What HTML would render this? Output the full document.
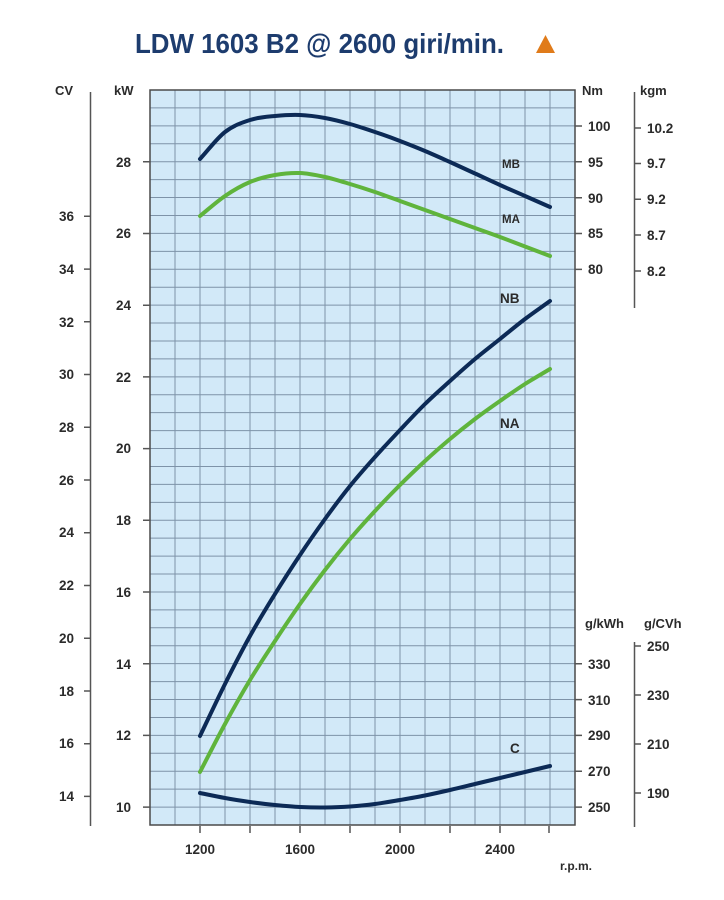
<!DOCTYPE html>
<html><head><meta charset="utf-8"><style>
html,body{margin:0;padding:0;background:#fff;}
svg{display:block;}
text{font-family:"Liberation Sans",Arial,sans-serif;font-weight:bold;fill:#2b2b2b;}
</style></head><body>
<svg width="724" height="900" viewBox="0 0 724 900" xmlns="http://www.w3.org/2000/svg">
<!-- Title -->
<text x="135" y="53" font-size="28" textLength="369" lengthAdjust="spacingAndGlyphs" style="fill:#1d3c6e">LDW 1603 B2 @ 2600 giri/min.</text>
<polygon points="536,53 555,53 545.5,35" fill="#e07b1a"/>

<!-- Plot area -->
<rect x="150" y="90" width="425" height="735" fill="#d2e9f8"/>
<path stroke="#7e93a8" stroke-width="1" fill="none" d="
M175,90V825 M200,90V825 M225,90V825 M250,90V825 M275,90V825 M300,90V825 M325,90V825 M350,90V825
M375,90V825 M400,90V825 M425,90V825 M450,90V825 M475,90V825 M500,90V825 M525,90V825 M550,90V825
M150,107.93H575 M150,125.85H575 M150,143.78H575 M150,161.71H575 M150,179.63H575 M150,197.56H575
M150,215.49H575 M150,233.41H575 M150,251.34H575 M150,269.27H575 M150,287.2H575 M150,305.12H575
M150,323.05H575 M150,340.98H575 M150,358.9H575 M150,376.83H575 M150,394.76H575 M150,412.68H575
M150,430.61H575 M150,448.54H575 M150,466.47H575 M150,484.39H575 M150,502.32H575 M150,520.25H575
M150,538.17H575 M150,556.1H575 M150,574.03H575 M150,591.96H575 M150,609.88H575 M150,627.81H575
M150,645.74H575 M150,663.66H575 M150,681.59H575 M150,699.52H575 M150,717.44H575 M150,735.37H575
M150,753.3H575 M150,771.22H575 M150,789.15H575 M150,807.08H575"/>
<rect x="150" y="90" width="425" height="735" fill="none" stroke="#4a4a4a" stroke-width="1.5"/>

<!-- Curves -->
<g fill="none" stroke-width="4" stroke-linejoin="round" stroke-linecap="round">
<path stroke="#0c2a56" d="M200,159 C208.3,150 216.7,138.5 225,132 C233.3,125.5 241.7,122.7 250,120 C258.3,117.3 266.7,116.8 275,116 C283.3,115.2 291.7,114.7 300,115 C308.3,115.3 316.7,116.5 325,118 C333.3,119.5 341.7,121.7 350,124 C358.3,126.3 366.7,129.2 375,132 C383.3,134.8 391.7,137.8 400,141 C408.3,144.2 416.7,147.5 425,151 C433.3,154.5 441.7,158.3 450,162 C458.3,165.8 466.7,169.7 475,173.5 C483.3,177.3 491.7,181.3 500,185 C508.3,188.8 516.7,192.3 525,196 C533.3,199.7 541.7,203.3 550,207"/>
<path stroke="#5fb43c" d="M200,216 C208.3,209.3 216.7,201.7 225,196 C233.3,190.3 241.7,185.5 250,182 C258.3,178.5 266.7,176.5 275,175 C283.3,173.5 291.7,172.7 300,173 C308.3,173.3 316.7,175.2 325,177 C333.3,178.8 341.7,181.5 350,184 C358.3,186.5 366.7,189.2 375,192 C383.3,194.8 391.7,198 400,201 C408.3,204 416.7,207 425,210 C433.3,213 441.7,216 450,219 C458.3,222 466.7,225 475,228 C483.3,231 491.7,233.9 500,237 C508.3,240.1 516.7,243.3 525,246.5 C533.3,249.7 541.7,252.8 550,256"/>
<path stroke="#0c2a56" d="M200,736 C208.3,718.7 216.7,700.7 225,684 C233.3,667.3 241.7,651 250,636 C258.3,621 266.7,607.5 275,594 C283.3,580.5 291.7,567.5 300,555 C308.3,542.5 316.7,530.5 325,519 C333.3,507.5 341.7,496.3 350,486 C358.3,475.7 366.7,466.3 375,457 C383.3,447.7 391.7,438.8 400,430 C408.3,421.2 416.7,412.2 425,404 C433.3,395.8 441.7,388.5 450,381 C458.3,373.5 466.7,366 475,359 C483.3,352 491.7,345.7 500,339 C508.3,332.3 516.7,325.3 525,319 C533.3,312.7 541.7,307 550,301"/>
<path stroke="#5fb43c" d="M200,772 C208.3,756 216.7,739.3 225,724 C233.3,708.7 241.7,693.8 250,680 C258.3,666.2 266.7,653.7 275,641 C283.3,628.3 291.7,615.8 300,604 C308.3,592.2 316.7,580.8 325,570 C333.3,559.2 341.7,548.8 350,539 C358.3,529.2 366.7,520 375,511 C383.3,502 391.7,493.3 400,485 C408.3,476.7 416.7,468.7 425,461 C433.3,453.3 441.7,446 450,439 C458.3,432 466.7,425.3 475,419 C483.3,412.7 491.7,406.8 500,401 C508.3,395.2 516.7,389.3 525,384 C533.3,378.7 541.7,374 550,369"/>
<path stroke="#0c2a56" d="M200,793 C208.3,794.7 216.7,796.5 225,798 C233.3,799.5 241.7,800.8 250,802 C258.3,803.2 266.7,804.2 275,805 C283.3,805.8 291.7,806.6 300,807 C308.3,807.4 316.7,807.6 325,807.5 C333.3,807.4 341.7,807.1 350,806.5 C358.3,805.9 366.7,805.1 375,804 C383.3,802.9 391.7,801.4 400,800 C408.3,798.6 416.7,797.2 425,795.5 C433.3,793.8 441.7,791.9 450,790 C458.3,788.1 466.7,786 475,784 C483.3,782 491.7,780 500,778 C508.3,776 516.7,774 525,772 C533.3,770 541.7,768 550,766"/>
</g>

<!-- Curve labels -->
<text x="502" y="168" font-size="11.5">MB</text>
<text x="502" y="223" font-size="11.5">MA</text>
<text x="500" y="303" font-size="13.5">NB</text>
<text x="500" y="428" font-size="13.5">NA</text>
<text x="510" y="753" font-size="13.5">C</text>

<!-- Axis headers -->
<text x="55" y="95" font-size="13">CV</text>
<text x="114" y="95" font-size="13">kW</text>
<text x="582" y="95" font-size="13">Nm</text>
<text x="640" y="95" font-size="13">kgm</text>
<text x="585" y="628" font-size="13">g/kWh</text>
<text x="644" y="628" font-size="13">g/CVh</text>
<text x="560" y="870" font-size="12">r.p.m.</text>

<!-- Axis lines and ticks -->
<g stroke="#555" stroke-width="1.5" fill="none">
<path d="M90.5,92V826"/>
<path d="M84,216.3H90.5 M84,269.1H90.5 M84,321.8H90.5 M84,374.5H90.5 M84,427.3H90.5 M84,480H90.5 M84,532.7H90.5 M84,585.5H90.5 M84,638.2H90.5 M84,691H90.5 M84,743.7H90.5 M84,796.4H90.5"/>
<path d="M143,161.8H150 M143,233.5H150 M143,305.2H150 M143,376.9H150 M143,448.6H150 M143,520.3H150 M143,592H150 M143,663.7H150 M143,735.4H150 M143,807.1H150"/>
<path d="M575,126H582 M575,161.8H582 M575,197.7H582 M575,233.5H582 M575,269.4H582"/>
<path d="M634.5,92V308"/>
<path d="M634.5,128H641 M634.5,163.5H641 M634.5,199.3H641 M634.5,235H641 M634.5,271H641"/>
<path d="M575,663.7H582 M575,699.6H582 M575,735.4H582 M575,771.3H582 M575,807.1H582"/>
<path d="M634.5,642V827"/>
<path d="M634.5,646H641 M634.5,695H641 M634.5,744H641 M634.5,793H641"/>
<path d="M200,826V833 M250,826V833 M300,826V833 M350,826V833 M400,826V833 M450,826V833 M500,826V833 M549,826V833"/>
</g>

<!-- CV labels -->
<g font-size="13.5" text-anchor="end">
<text x="74" y="221">36</text>
<text x="74" y="274">34</text>
<text x="74" y="327">32</text>
<text x="74" y="379">30</text>
<text x="74" y="432">28</text>
<text x="74" y="485">26</text>
<text x="74" y="537">24</text>
<text x="74" y="590">22</text>
<text x="74" y="643">20</text>
<text x="74" y="696">18</text>
<text x="74" y="748">16</text>
<text x="74" y="801">14</text>
</g>
<!-- kW labels -->
<g font-size="13.5" text-anchor="end">
<text x="131" y="167">28</text>
<text x="131" y="238">26</text>
<text x="131" y="310">24</text>
<text x="131" y="382">22</text>
<text x="131" y="453">20</text>
<text x="131" y="525">18</text>
<text x="131" y="597">16</text>
<text x="131" y="669">14</text>
<text x="131" y="740">12</text>
<text x="131" y="812">10</text>
</g>
<!-- Nm labels -->
<g font-size="13.5">
<text x="588" y="131">100</text>
<text x="588" y="167">95</text>
<text x="588" y="203">90</text>
<text x="588" y="238">85</text>
<text x="588" y="274">80</text>
</g>
<!-- kgm labels -->
<g font-size="13.5">
<text x="647" y="133">10.2</text>
<text x="647" y="168">9.7</text>
<text x="647" y="204">9.2</text>
<text x="647" y="240">8.7</text>
<text x="647" y="276">8.2</text>
</g>
<!-- g/kWh labels -->
<g font-size="13.5">
<text x="588" y="669">330</text>
<text x="588" y="705">310</text>
<text x="588" y="740">290</text>
<text x="588" y="776">270</text>
<text x="588" y="812">250</text>
</g>
<!-- g/CVh labels -->
<g font-size="13.5">
<text x="647" y="651">250</text>
<text x="647" y="700">230</text>
<text x="647" y="749">210</text>
<text x="647" y="798">190</text>
</g>
<!-- rpm labels -->
<g font-size="13.5" text-anchor="middle">
<text x="200" y="854">1200</text>
<text x="300" y="854">1600</text>
<text x="400" y="854">2000</text>
<text x="500" y="854">2400</text>
</g>
</svg>
</body></html>
